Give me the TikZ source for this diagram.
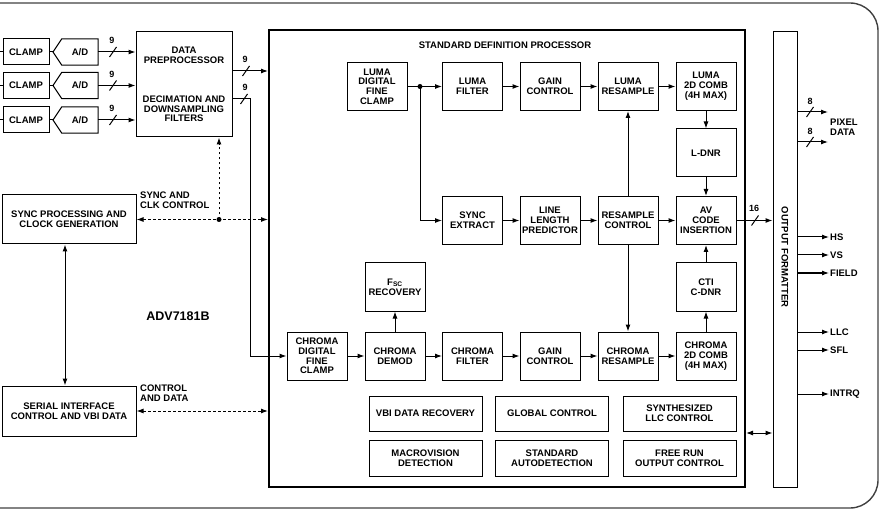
\documentclass[tikz,border=0pt]{standalone}
\usepackage{fontspec}
\setmainfont{Liberation Sans}
\usetikzlibrary{arrows.meta}

\tikzset{
  blk/.style={draw, line width=1pt, minimum width=60pt, minimum height=48pt, inner sep=1pt,
    align=center, font=\bfseries\fontsize{9.5}{9.8}\selectfont},
  wideblk/.style={blk, minimum width=113pt, minimum height=35pt},
  lbl/.style={inner sep=1pt, align=left, font=\bfseries\fontsize{9.5}{9.8}\selectfont},
  buslbl/.style={inner sep=0pt, font=\bfseries\fontsize{9}{9}\selectfont},
  arr/.style={line width=1pt, -{Latex[length=7pt,width=5pt]}},
  dblarr/.style={line width=1pt, {Latex[length=7pt,width=5pt]}-{Latex[length=7pt,width=5pt]}},
  ctlline/.style={dash pattern=on 2.5pt off 2.5pt},
  busslash/.pic={\draw[line width=1pt] (-3.5,5) -- (3.5,-5);}
}

\begin{document}
\begin{tikzpicture}[x=1pt, y=-1pt]
\useasboundingbox (0,0) rectangle (882,526);
\draw[line width=1.4pt, black!75, rounded corners=28pt] (0,3) -- (878,3) -- (878,508) -- (0,508);

% data preprocessor and standard definition processor frame
\node[blk, minimum width=96pt, minimum height=105pt] (dpp) at (184,84.5)
  {DATA\\PREPROCESSOR\\[29pt]DECIMATION AND\\DOWNSAMPLING\\FILTERS};
\node[draw, line width=2pt, minimum width=476pt, minimum height=457pt, inner sep=0pt] (sdp) at (507,258.5) {};
\node[lbl] (sdptitle) at (505,45) {STANDARD DEFINITION PROCESSOR};

\foreach \i/\y in {1/52, 2/85.5, 3/120} {
  \node[blk, minimum width=46pt, minimum height=26pt] (clamp\i) at (26,\y) {CLAMP};
  \node[lbl, minimum width=36pt, minimum height=26pt, inner sep=0pt, align=center] (ad\i) at (80,\y) {A/D};
  \coordinate (adtip\i) at (53,\y);
  \draw[line width=1pt] (adtip\i) -- (ad\i.north west) -- (ad\i.north east)
    -- (ad\i.south east) -- (ad\i.south west) -- cycle;
  \draw[line width=1pt] (0,\y) -- (clamp\i.west);
  \draw[line width=1pt] (clamp\i.east) -- (adtip\i);
  \draw[arr] (ad\i.east) -- (dpp.west |- ad\i.east);
  \pic at (113,\y) {busslash};
  \node[buslbl] (w9\i) at (112,\y-11.5) {9};
}

% luma path
\node[blk] (lclamp) at (377,86.5) {LUMA\\DIGITAL\\FINE\\CLAMP};
\node[blk] (lfilt) at (472.5,86.5) {LUMA\\FILTER};
\node[blk] (lgain) at (550,86.5) {GAIN\\CONTROL};
\node[blk] (lres) at (628,86.5) {LUMA\\RESAMPLE};
\node[blk] (lcomb) at (706,86.5) {LUMA\\2D COMB\\(4H MAX)};
\node[blk] (ldnr) at (706,153) {L-DNR};
% sync path
\node[blk] (syncx) at (472.5,220.5) {SYNC\\EXTRACT};
\node[blk] (llp) at (550,220.5) {LINE\\LENGTH\\PREDICTOR};
\node[blk] (resctl) at (628,220.5) {RESAMPLE\\CONTROL};
\node[blk] (avcode) at (706,220.5) {AV\\CODE\\INSERTION};
% chroma path
\node[blk] (fsc) at (395,287) {F\textsubscript{SC}\\RECOVERY};
\node[blk] (cti) at (706,287) {CTI\\C-DNR};
\node[blk] (cclamp) at (317,356) {CHROMA\\DIGITAL\\FINE\\CLAMP};
\node[blk] (demod) at (395,356) {CHROMA\\DEMOD};
\node[blk] (cfilt) at (472.5,356) {CHROMA\\FILTER};
\node[blk] (cgain) at (550,356) {GAIN\\CONTROL};
\node[blk] (cres) at (628,356) {CHROMA\\RESAMPLE};
\node[blk] (ccomb) at (706,356) {CHROMA\\2D COMB\\(4H MAX)};

\node[wideblk] (vbi) at (425.5,413.5) {VBI DATA RECOVERY};
\node[wideblk] (glob) at (552,413.5) {GLOBAL CONTROL};
\node[wideblk] (synllc) at (679.5,413.5) {SYNTHESIZED\\LLC CONTROL};
\node[wideblk, minimum height=36pt] (macro) at (425.5,458) {MACROVISION\\DETECTION};
\node[wideblk, minimum height=36pt] (stdauto) at (552,458) {STANDARD\\AUTODETECTION};
\node[wideblk, minimum height=36pt] (freerun) at (679.5,458) {FREE RUN\\OUTPUT CONTROL};

\node[draw, line width=1pt, minimum width=24pt, minimum height=455pt, inner sep=0pt] (ofmt) at (785,259.5) {};
\node[lbl, rotate=-90] (ofmtlbl) at (785,257) {OUTPUT FORMATTER};

\coordinate (ydot) at (420,86.5);
\draw[line width=1pt] (lclamp) -- (ydot);
\draw[arr] (ydot) -- (lfilt);
\draw[arr] (ydot) |- (syncx);
\fill (ydot) circle (2.5);
\draw[arr] (lfilt) -- (lgain);
\draw[arr] (lgain) -- (lres);
\draw[arr] (lres) -- (lcomb);
\draw[arr] (lcomb) -- (ldnr);
\draw[arr] (ldnr) -- (avcode);
\draw[arr] (syncx) -- (llp);
\draw[arr] (llp) -- (resctl);
\draw[arr] (resctl) -- (avcode);
\draw[arr] (resctl) -- (lres);
\draw[arr] (resctl) -- (cres);
\draw[arr] (cclamp) -- (demod);
\draw[arr] (demod) -- (cfilt);
\draw[arr] (demod) -- (fsc);
\draw[arr] (cfilt) -- (cgain);
\draw[arr] (cgain) -- (cres);
\draw[arr] (cres) -- (ccomb);
\draw[arr] (ccomb) -- (cti);
\draw[arr] (cti) -- (avcode);

% buses out of the data preprocessor
\coordinate (dppo1) at (232,71);
\coordinate (dppo2) at (232,99);
\draw[arr] (dppo1) -- (sdp.west |- dppo1);
\pic at (246,71) {busslash};
\node[buslbl] (w9a) at (245,59.5) {9};
\draw[arr] (dppo2) -- (250,99) |- (cclamp.west);
\pic at (244,99) {busslash};
\node[buslbl] (w9b) at (245,87.5) {9};

% sync and serial control
\node[blk, minimum width=134pt, minimum height=49pt] (syncproc) at (69,219.5) {SYNC PROCESSING AND\\CLOCK GENERATION};
\node[blk, minimum width=134pt, minimum height=50pt] (serial) at (69,411) {SERIAL INTERFACE\\CONTROL AND VBI DATA};
\coordinate (cdot) at (219,219.5);
\draw[dblarr, ctlline] (syncproc.east) -- (sdp.west |- syncproc.east);
\draw[arr, ctlline] (cdot) -- (dpp.south -| cdot);
\fill (cdot) circle (2.5);
\node[lbl, anchor=west] (synclbl) at (139,200.5) {SYNC AND\\CLK CONTROL};
\draw[dblarr, ctlline] (serial.east) -- (sdp.west |- serial.east);
\node[lbl, anchor=west] (ctrllbl) at (139,393) {CONTROL\\AND DATA};
\draw[dblarr] ([xshift=-4pt]syncproc.south) -- ([xshift=-4pt]serial.north);
\node[font=\bfseries\fontsize{12.5}{14}\selectfont] (chip) at (178,316) {ADV7181B};

% into and out of the output formatter
\draw[arr] (avcode.east) -- (ofmt.west |- avcode.east);
\pic at (755,220.5) {busslash};
\node[buslbl] (w16) at (754,208) {16};
\coordinate (ctlbus) at (760,433);
\draw[dblarr] (sdp.east |- ctlbus) -- (ofmt.west |- ctlbus);

\node[lbl, anchor=west] (pixdata) at (829,127.5) {PIXEL\\DATA};
\foreach \i/\y in {1/112, 2/142} {
  \coordinate (pix\i) at (828,\y);
  \draw[arr] (ofmt.east |- pix\i) -- (pix\i);
  \pic at (810,\y) {busslash};
  \node[buslbl] (w8\i) at (810,\y-11) {8};
}
\foreach \n/\y/\t in {hs/237/HS, vs/255/VS, field/273/FIELD, llc/332/LLC, sfl/350/SFL, intrq/394/INTRQ} {
  \node[lbl, anchor=west] (out\n) at (829,\y) {\t};
  \draw[arr] (ofmt.east |- out\n.west) -- (out\n.west);
}
\end{tikzpicture}
\end{document}
